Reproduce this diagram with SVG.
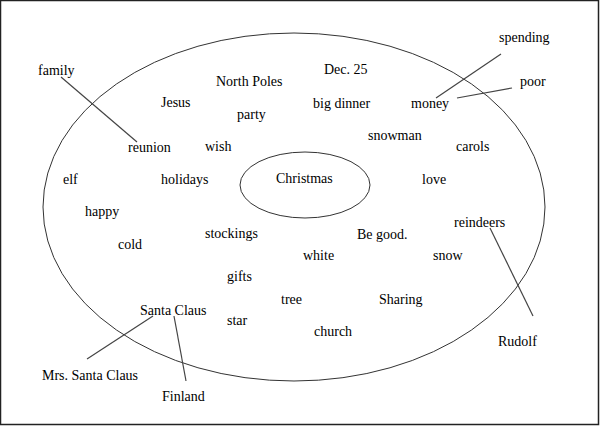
<svg xmlns="http://www.w3.org/2000/svg" width="600" height="426" viewBox="0 0 600 426">
<style>
text{font-family:"Liberation Serif","Times New Roman",serif;font-size:14px;fill:#000}
.sh{fill:none;stroke:#333;stroke-width:1}
.ln{stroke:#444;stroke-width:1.2;fill:none}
</style>
<rect x="0" y="0" width="600" height="426" fill="#fff"/>
<rect x="0.5" y="0.5" width="598" height="424" fill="none" stroke="#222" stroke-width="1.5"/>
<g id="outer"><ellipse class="sh" cx="294" cy="207" rx="251" ry="174"/></g>
<g id="center"><ellipse class="sh" cx="305" cy="185" rx="65" ry="33"/><text x="276" y="183">Christmas</text></g>
<g id="connectors">
<line class="ln" x1="61" y1="77" x2="137" y2="142"/>
<line class="ln" x1="501" y1="54" x2="436" y2="98"/>
<line class="ln" x1="512" y1="88" x2="457" y2="98"/>
<line class="ln" x1="153" y1="316" x2="87" y2="359"/>
<line class="ln" x1="174" y1="316" x2="186" y2="381"/>
<line class="ln" x1="490" y1="228" x2="533" y2="316"/>
</g>
<g id="family"><text x="38" y="75">family</text></g>
<g id="northpoles"><text x="216" y="86">North Poles</text></g>
<g id="dec25"><text x="324" y="74">Dec. 25</text></g>
<g id="spending"><text x="499" y="42">spending</text></g>
<g id="poor"><text x="520" y="86">poor</text></g>
<g id="jesus"><text x="161" y="107">Jesus</text></g>
<g id="party"><text x="237" y="119">party</text></g>
<g id="bigdinner"><text x="313" y="108">big dinner</text></g>
<g id="money"><text x="411" y="108">money</text></g>
<g id="snowman"><text x="368" y="140">snowman</text></g>
<g id="reunion"><text x="128" y="152">reunion</text></g>
<g id="wish"><text x="205" y="151">wish</text></g>
<g id="carols"><text x="456" y="151">carols</text></g>
<g id="elf"><text x="63" y="184">elf</text></g>
<g id="holidays"><text x="161" y="184">holidays</text></g>
<g id="love"><text x="422" y="184">love</text></g>
<g id="happy"><text x="85" y="216">happy</text></g>
<g id="reindeers"><text x="454" y="227">reindeers</text></g>
<g id="stockings"><text x="205" y="238">stockings</text></g>
<g id="begood"><text x="357" y="239">Be good.</text></g>
<g id="cold"><text x="118" y="249">cold</text></g>
<g id="white"><text x="303" y="260">white</text></g>
<g id="snow"><text x="433" y="260">snow</text></g>
<g id="gifts"><text x="227" y="281">gifts</text></g>
<g id="tree"><text x="281" y="304">tree</text></g>
<g id="sharing"><text x="379" y="304">Sharing</text></g>
<g id="santaclaus"><text x="140" y="315">Santa Claus</text></g>
<g id="star"><text x="227" y="325">star</text></g>
<g id="church"><text x="314" y="336">church</text></g>
<g id="rudolf"><text x="498" y="346">Rudolf</text></g>
<g id="mrssanta"><text x="42" y="380">Mrs. Santa Claus</text></g>
<g id="finland"><text x="162" y="401">Finland</text></g>
</svg>
